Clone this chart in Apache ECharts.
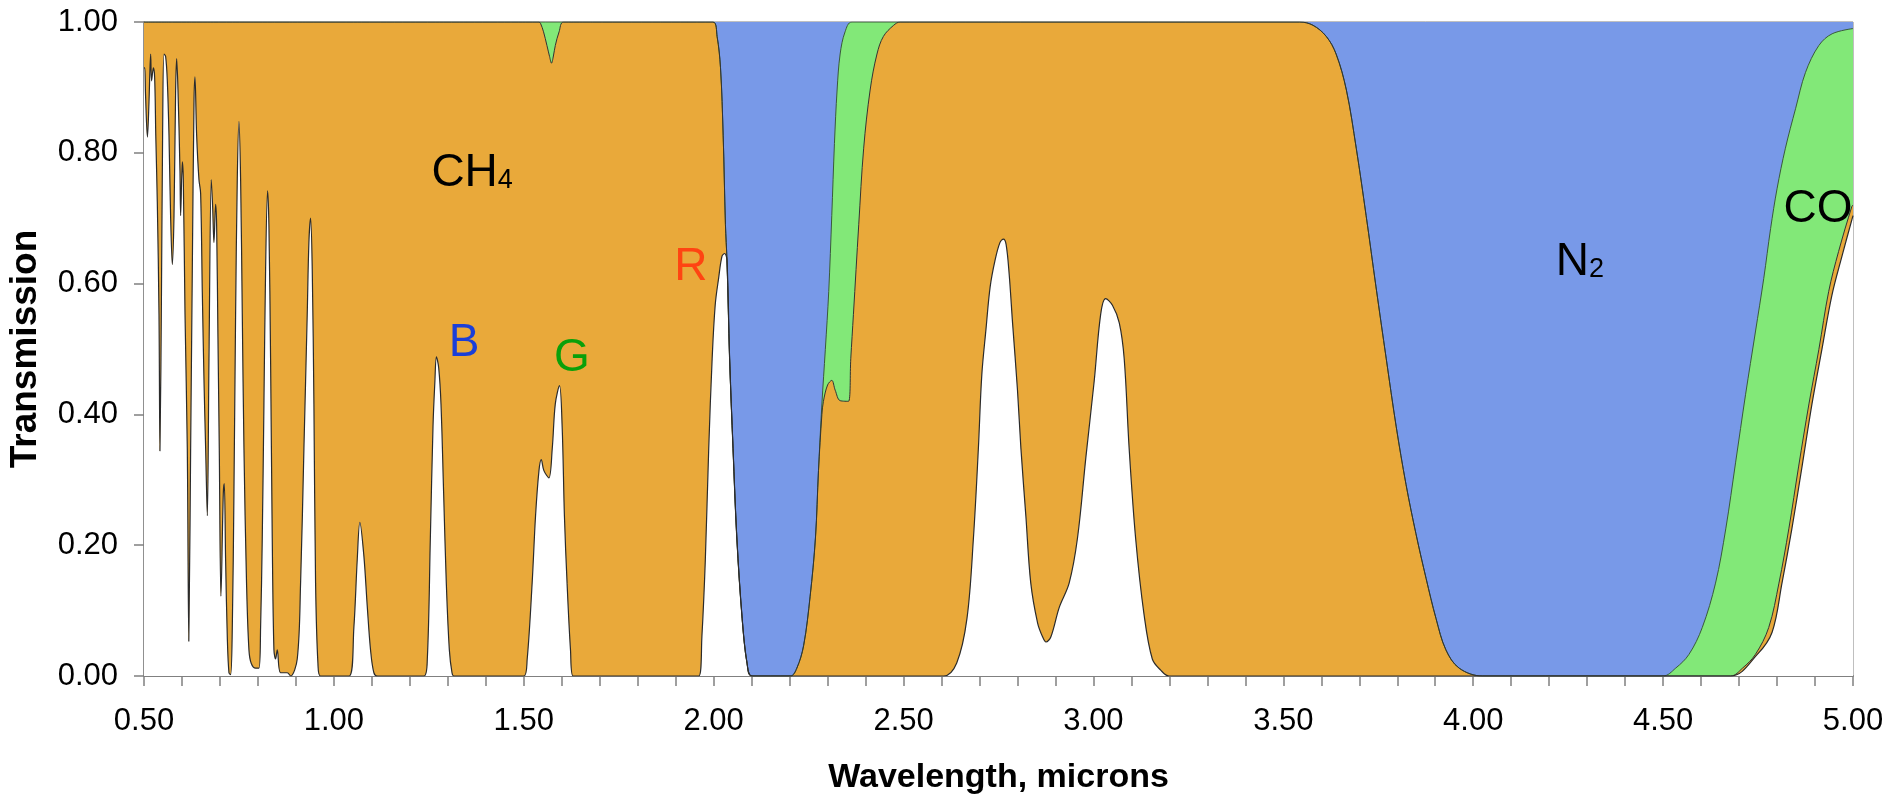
<!DOCTYPE html>
<html style="height: 100%">
<head>
<meta charset="utf-8">
</head>
<body style="height: 100%; margin: 0; background: #fff">
<div id="container" style="width: 1892px; height: 796px"></div>
<script type="text/javascript" src="https://cdn.jsdelivr.net/npm/echarts@6/dist/echarts.min.js"></script>
<script type="text/javascript">
// transmission edges: [wavelength (microns), transmission]
// N2 alone (blue above it)
var n2Edge = [
    [0.5, 1], [1.998, 1], [2.009, 0.978], [2.018, 0.93], [2.025, 0.827], [2.031, 0.69],
    [2.035, 0.636], [2.042, 0.485], [2.051, 0.348], [2.061, 0.211], [2.075, 0.088],
    [2.088, 0.019], [2.101, 0], [2.202, 0], [2.219, 0.012], [2.237, 0.047], [2.254, 0.122],
    [2.268, 0.211], [2.276, 0.314], [2.285, 0.416], [2.294, 0.499], [2.303, 0.588],
    [2.311, 0.704], [2.318, 0.814], [2.325, 0.896], [2.333, 0.951], [2.346, 0.985],
    [2.364, 1], [3.543, 1], [3.578, 0.995], [3.613, 0.978], [3.639, 0.951], [3.666, 0.896],
    [3.692, 0.807], [3.718, 0.704], [3.744, 0.595], [3.771, 0.485], [3.797, 0.382],
    [3.823, 0.293], [3.849, 0.218], [3.876, 0.149], [3.902, 0.088], [3.928, 0.04],
    [3.963, 0.012], [4.024, 0], [4.5, 0], [4.533, 0.012], [4.568, 0.033], [4.603, 0.074],
    [4.638, 0.142], [4.665, 0.225], [4.691, 0.327], [4.717, 0.43], [4.743, 0.526],
    [4.765, 0.608], [4.783, 0.684], [4.8, 0.745], [4.822, 0.807], [4.849, 0.868],
    [4.875, 0.923], [4.91, 0.964], [4.945, 0.982], [5.0, 0.99]
];
// N2 x CO (green above it)
var coEdge = [
    [0.5, 1], [1.54, 1], [1.544, 0.998], [1.552, 0.985], [1.561, 0.964], [1.568, 0.947],
    [1.573, 0.937], [1.578, 0.948], [1.583, 0.964], [1.593, 0.985], [1.605, 1], [1.998, 1],
    [2.009, 0.978], [2.018, 0.93], [2.025, 0.827], [2.031, 0.69], [2.035, 0.636],
    [2.042, 0.485], [2.051, 0.348], [2.061, 0.211], [2.075, 0.088], [2.088, 0.019],
    [2.101, 0], [2.202, 0], [2.219, 0.012], [2.237, 0.047], [2.254, 0.122], [2.268, 0.211],
    [2.276, 0.314], [2.285, 0.4], [2.289, 0.42], [2.3, 0.445], [2.311, 0.452], [2.32, 0.437],
    [2.333, 0.421], [2.355, 0.42], [2.361, 0.485], [2.368, 0.553], [2.382, 0.69],
    [2.395, 0.807], [2.412, 0.896], [2.43, 0.951], [2.447, 0.978], [2.474, 0.995],
    [2.491, 1], [3.543, 1], [3.578, 0.995], [3.613, 0.978], [3.639, 0.951], [3.666, 0.896],
    [3.692, 0.807], [3.718, 0.704], [3.744, 0.595], [3.771, 0.485], [3.797, 0.382],
    [3.823, 0.293], [3.849, 0.218], [3.876, 0.149], [3.902, 0.088], [3.928, 0.04],
    [3.963, 0.012], [4.024, 0], [4.678, 0], [4.709, 0.012], [4.743, 0.033], [4.778, 0.074],
    [4.805, 0.142], [4.831, 0.225], [4.857, 0.321], [4.884, 0.416], [4.91, 0.499],
    [4.936, 0.588], [4.962, 0.649], [4.997, 0.718], [5.0, 0.72]
];
// N2 x CO x CH4, total (white below it)
var ch4Edge = [
    [0.5, 0.93], [0.502, 0.93], [0.504, 0.889], [0.509, 0.824], [0.513, 0.875],
    [0.5175, 0.951], [0.52, 0.91], [0.5246, 0.93], [0.528, 0.916], [0.531, 0.827],
    [0.535, 0.725], [0.5395, 0.553], [0.542, 0.344], [0.5456, 0.553], [0.549, 0.827],
    [0.5526, 0.951], [0.557, 0.947], [0.5614, 0.91], [0.5658, 0.827], [0.57, 0.704],
    [0.5746, 0.629], [0.579, 0.704], [0.5833, 0.896], [0.586, 0.944], [0.5895, 0.896],
    [0.5947, 0.773], [0.5965, 0.704], [0.6009, 0.786], [0.6035, 0.759], [0.608, 0.553],
    [0.614, 0.348], [0.618, 0.053], [0.6228, 0.348], [0.6272, 0.622], [0.6316, 0.875],
    [0.6342, 0.916], [0.6386, 0.827], [0.6447, 0.759], [0.6491, 0.738], [0.6535, 0.588],
    [0.658, 0.451], [0.6623, 0.348], [0.6667, 0.245], [0.6711, 0.485], [0.6772, 0.759],
    [0.6807, 0.718], [0.6842, 0.663], [0.6886, 0.721], [0.6912, 0.69], [0.6947, 0.519],
    [0.6982, 0.348], [0.7026, 0.122], [0.7088, 0.279], [0.7114, 0.294], [0.7149, 0.177],
    [0.7193, 0.06], [0.7237, 0.005], [0.7281, 0.002], [0.7325, 0.074], [0.7368, 0.279],
    [0.7412, 0.553], [0.7456, 0.759], [0.75, 0.848], [0.7544, 0.759], [0.7588, 0.553],
    [0.7632, 0.348], [0.77, 0.142], [0.7763, 0.04], [0.7825, 0.019], [0.794, 0.012],
    [0.8026, 0.012], [0.807, 0.074], [0.8114, 0.211], [0.8158, 0.416], [0.8202, 0.622],
    [0.8254, 0.742], [0.8289, 0.69], [0.8333, 0.485], [0.8377, 0.211], [0.8421, 0.04],
    [0.8465, 0.026], [0.8509, 0.04], [0.8596, 0.005], [0.8772, 0.005], [0.886, 0],
    [0.9035, 0.026], [0.9123, 0.142], [0.9211, 0.348], [0.9298, 0.553], [0.9342, 0.663],
    [0.9386, 0.7], [0.943, 0.622], [0.9474, 0.416], [0.9518, 0.142], [0.958, 0.019],
    [0.965, 0], [1.04, 0], [1.0526, 0.074], [1.0614, 0.177], [1.0684, 0.235],
    [1.0789, 0.184], [1.0877, 0.108], [1.0965, 0.04], [1.1053, 0.005], [1.115, 0],
    [1.237, 0], [1.246, 0.026], [1.254, 0.211], [1.261, 0.382], [1.266, 0.451],
    [1.27, 0.488], [1.276, 0.471], [1.282, 0.416], [1.289, 0.279], [1.296, 0.142],
    [1.304, 0.04], [1.311, 0.005], [1.316, 0],
    [1.5, 0], [1.509, 0.026], [1.522, 0.142], [1.531, 0.245], [1.54, 0.314], [1.546, 0.331],
    [1.553, 0.314], [1.566, 0.303], [1.575, 0.348], [1.583, 0.416], [1.594, 0.444],
    [1.601, 0.382], [1.607, 0.245], [1.614, 0.142], [1.623, 0.04], [1.63, 0],
    [1.961, 0], [1.969, 0.06], [1.978, 0.177], [1.987, 0.348], [1.996, 0.485],
    [2.004, 0.567], [2.013, 0.608], [2.022, 0.642], [2.029, 0.646], [2.035, 0.636],
    [2.042, 0.485], [2.051, 0.348], [2.061, 0.211], [2.075, 0.088], [2.088, 0.019],
    [2.101, 0],
    [2.605, 0], [2.64, 0.02], [2.667, 0.088], [2.684, 0.211], [2.697, 0.348], [2.706, 0.46],
    [2.717, 0.53], [2.728, 0.595], [2.741, 0.636], [2.754, 0.663], [2.763, 0.668],
    [2.77, 0.66], [2.778, 0.615], [2.787, 0.54], [2.8, 0.437], [2.809, 0.348],
    [2.822, 0.245], [2.835, 0.142], [2.853, 0.081], [2.866, 0.06], [2.875, 0.052],
    [2.888, 0.06], [2.91, 0.105], [2.936, 0.142], [2.958, 0.211], [2.98, 0.334],
    [3.002, 0.451], [3.019, 0.553], [3.032, 0.577], [3.05, 0.567], [3.068, 0.54],
    [3.081, 0.485], [3.094, 0.348], [3.111, 0.211], [3.133, 0.095], [3.155, 0.026],
    [3.177, 0.009], [3.199, 0],
    [4.678, 0], [4.748, 0.033], [4.787, 0.067], [4.813, 0.142], [4.839, 0.225],
    [4.866, 0.321], [4.892, 0.416], [4.918, 0.499], [4.944, 0.581], [4.971, 0.642],
    [5.0, 0.704]
];
var fullBand = [[0.5, 1], [5.0, 1]];

// labels in the plot: [text, wavelength, transmission, colour]
var bandLabels = [
    ['{a|CH}{s|4}', 1.364, 0.768, '#000000'],
    ['{a|B}', 1.343, 0.509, '#1a3fd8'],
    ['{a|G}', 1.627, 0.486, '#0aa00a'],
    ['{a|R}', 1.94, 0.625, '#ff4412'],
    ['{a|N}{s|2}', 4.281, 0.632, '#000000'],
    ['{a|CO}', 4.908, 0.714, '#000000']
];

var font = 'Liberation Sans, Arial, sans-serif';
var dom = document.getElementById("container");
var myChart = echarts.init(dom);

var markData = bandLabels.map(function (b) {
    return {
        coord: [b[1], b[2]],
        label: {
            show: true,
            position: 'inside',
            formatter: b[0],
            rich: {
                a: {fontSize: 46, lineHeight: 46, color: b[3], fontFamily: font, verticalAlign: 'bottom'},
                s: {fontSize: 27, lineHeight: 27, color: b[3], fontFamily: font, verticalAlign: 'bottom', padding: [0, 0, 3, 0]}
            }
        }
    };
});

function areaSeries(name, data, fill, lineColor, lineWidth) {
    return {
        name: name,
        type: 'line',
        data: data,
        showSymbol: false,
        symbol: 'none',
        smooth: 0.35,
        silent: true,
        lineStyle: {color: lineColor, width: lineWidth},
        areaStyle: {color: fill, opacity: 1},
        emphasis: {disabled: true}
    };
}

var ch4Series = areaSeries('total', ch4Edge, '#ffffff', '#2b2b2b', 1.2);
ch4Series.markPoint = {
    symbol: 'circle',
    symbolSize: 1,
    itemStyle: {color: 'rgba(0,0,0,0)'},
    silent: true,
    data: markData
};

option = {
    animation: false,
    backgroundColor: '#ffffff',
    grid: {
        left: 144, right: 39, top: 22, bottom: 120,
        outerBoundsMode: 'none',
        containLabel: false,
        show: true, borderColor: '#808080', borderWidth: 1, backgroundColor: 'transparent'
    },
    xAxis: {
        type: 'value',
        min: 0.5,
        max: 5,
        interval: 0.1,
        name: 'Wavelength, microns',
        nameLocation: 'middle',
        nameGap: 85,
        nameTextStyle: {fontSize: 34, fontWeight: 'bold', color: '#000', fontFamily: font},
        axisLine: {show: true, onZero: false, lineStyle: {color: '#808080', width: 2}},
        axisTick: {show: true, length: 10, lineStyle: {color: '#808080', width: 1.5}},
        axisLabel: {
            fontSize: 31,
            color: '#000',
            fontFamily: font,
            margin: 30,
            formatter: function (v) {
                var r = Math.round(v * 100) / 100;
                return Math.abs(r * 2 - Math.round(r * 2)) < 1e-6 ? r.toFixed(2) : '';
            }
        },
        splitLine: {show: false}
    },
    yAxis: {
        type: 'value',
        min: 0,
        max: 1,
        interval: 0.2,
        name: 'Transmission',
        nameLocation: 'middle',
        nameGap: 100,
        nameTextStyle: {fontSize: 37, fontWeight: 'bold', color: '#000', fontFamily: font},
        axisLine: {show: true, lineStyle: {color: '#808080', width: 1.5}},
        axisTick: {show: true, length: 10, lineStyle: {color: '#808080', width: 1.5}},
        axisLabel: {
            fontSize: 31,
            color: '#000',
            fontFamily: font,
            margin: 26,
            formatter: function (v) { return v.toFixed(2); }
        },
        splitLine: {show: false}
    },
    series: [
        areaSeries('N2 band', fullBand, '#7899e8', 'rgba(0,0,0,0)', 0),
        areaSeries('N2', n2Edge, '#82e878', '#3a5a3a', 1),
        areaSeries('CO', coEdge, '#e9a93a', '#333333', 1),
        ch4Series
    ]
};
if (option && typeof option === "object") {
    myChart.setOption(option, true);
}
</script>
</body>
</html>
